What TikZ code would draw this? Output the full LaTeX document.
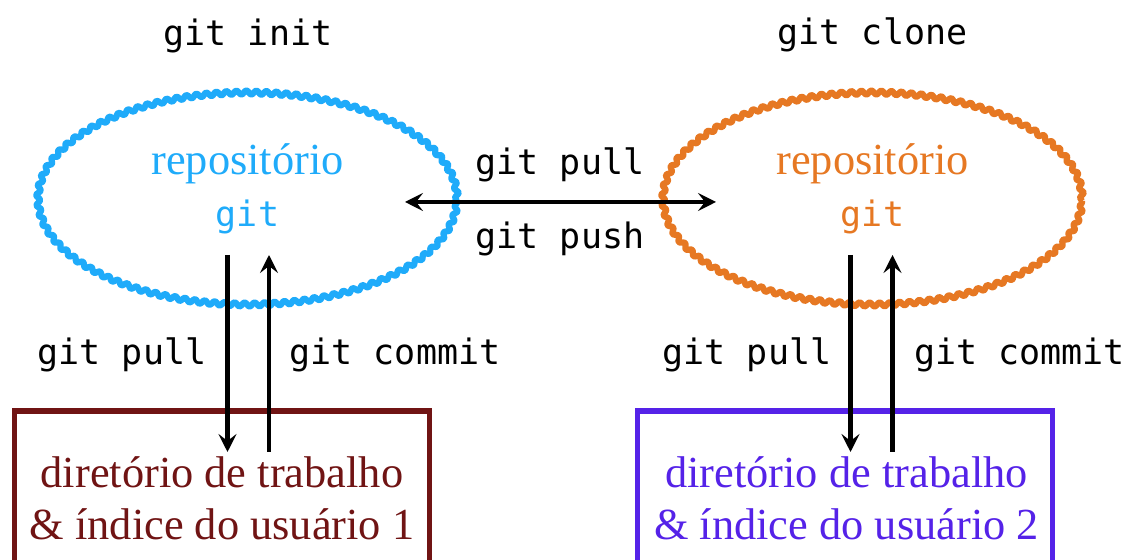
\documentclass[tikz,border=0pt]{standalone}
\usepackage{fontspec}
\setmainfont{Liberation Serif}
\setmonofont{DejaVu Sans Mono}
\usetikzlibrary{shapes.geometric,decorations.pathmorphing,arrows.meta}
\definecolor{repoA}{RGB}{31,171,250}
\definecolor{repoB}{RGB}{230,120,35}
\definecolor{workA}{RGB}{112,20,20}
\definecolor{workB}{RGB}{85,34,232}
\newcommand{\cmdfont}{\ttfamily\fontsize{17.5}{25}\selectfont}
\newcommand{\txtfont}{\rmfamily\fontsize{22.2}{26}\selectfont}

\begin{document}
\begin{tikzpicture}[x=0.5pt,y=-0.5pt,
  repo/.style={ellipse, draw, line width=3.1pt, line join=round,
    minimum width=209.5pt, minimum height=106pt, inner sep=0pt,
    decorate, decoration={snake, segment length=5pt, amplitude=1pt}},
  work/.style={rectangle, draw, line width=2.6pt,
    minimum width=207.5pt, minimum height=110pt, inner sep=0pt},
  cmd/.style={font=\cmdfont, inner sep=0pt, anchor=base},
  boxtext/.style={font=\txtfont, align=center, inner sep=0pt, anchor=base},
  flow/.style={line width=2.1pt, -{Stealth[length=9pt,width=9pt,inset=3.5pt]}},
  sync/.style={line width=2.1pt, {Stealth[length=9pt,width=9pt,inset=3.5pt]}-{Stealth[length=9pt,width=9pt,inset=3.5pt]}},
]
\clip (0,0) rectangle (1137,560);

% repositories
\node[repo, draw=repoA] (repo1) at (247.5,201) {};
\node[repo, draw=repoB] (repo2) at (872.5,201) {};
\node[boxtext, text=repoA] (repo1txt) at (247.5,227) {repositório\\{\cmdfont git}};
\node[boxtext, text=repoB] (repo2txt) at (872.5,227) {repositório\\{\cmdfont git}};

% working directories (lower edge runs off the page)
\node[work, draw=workA] (work1) at (222.25,521) {};
\node[work, draw=workB] (work2) at (845.25,521) {};
\node[boxtext, text=workA] (work1txt) at (222,540) {diretório de trabalho\\\& índice do usuário 1};
\node[boxtext, text=workB] (work2txt) at (846.5,540) {diretório de trabalho\\\& índice do usuário 2};

% commands
\node[cmd] (initlbl) at (248,46) {git init};
\node[cmd] (clonelbl) at (872.5,45) {git clone};
\node[cmd] (pullsync) at (560,175) {git pull};
\node[cmd] (pushsync) at (560,249) {git push};
\node[cmd] (pullA) at (122,365) {git pull};
\node[cmd] (commitA) at (395,365) {git commit};
\node[cmd] (pullB) at (747,365) {git pull};
\node[cmd] (commitB) at (1019.5,365) {git commit};

% arrow ends
\coordinate (syncL) at (405,202);
\coordinate (syncR) at (716,202);
\coordinate (downAtop) at (227.5,255);
\coordinate (downAbot) at (227.5,452);
\coordinate (upAbot) at (269,452);
\coordinate (upAtop) at (269,255);
\coordinate (downBtop) at (850.5,255);
\coordinate (downBbot) at (850.5,452);
\coordinate (upBbot) at (892.5,452);
\coordinate (upBtop) at (892.5,255);

\draw[sync] (syncL) -- (syncR);
\draw[flow] (downAtop) -- (downAbot);
\draw[flow] (upAbot) -- (upAtop);
\draw[flow] (downBtop) -- (downBbot);
\draw[flow] (upBbot) -- (upBtop);
\end{tikzpicture}
\end{document}
